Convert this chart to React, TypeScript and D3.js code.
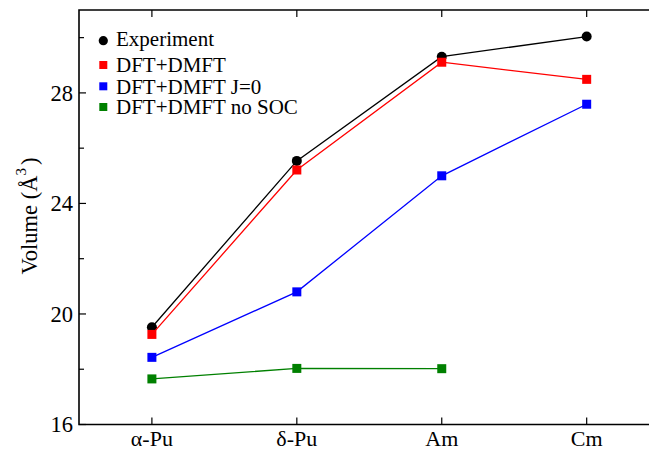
import * as d3 from 'd3';
import React, { useEffect, useRef } from 'react';

// categories and series values (volume in cubic angstrom)
const categories = ['\u03b1-Pu', '\u03b4-Pu', 'Am', 'Cm'];
const experiment = [19.52, 25.54, 29.31, 30.04];
const dftDmft = [19.26, 25.21, 29.11, 28.49];
const dftDmftJ0 = [18.43, 20.8, 25.0, 27.59];
const dftDmftNoSoc = [17.65, 18.03, 18.02];
const yMajorTicks = [16, 20, 24, 28];
const yMinorTicks = [18, 22, 26, 30];

const series = [
  { name: 'Experiment', values: experiment, color: '#000000', marker: 'circle' },
  { name: 'DFT+DMFT', values: dftDmft, color: '#ff0000', marker: 'square' },
  { name: 'DFT+DMFT J=0', values: dftDmftJ0, color: '#0000ff', marker: 'square' },
  { name: 'DFT+DMFT no SOC', values: dftDmftNoSoc, color: '#008000', marker: 'square' },
];

const W = 649;
const H = 450;
const margin = { top: 10, right: 0, bottom: 25.5, left: 79 };
const font = '"Liberation Serif", "Times New Roman", serif';

const x = d3.scaleLinear().domain([-0.503, 3.43]).range([margin.left, W - margin.right]);
const y = d3.scaleLinear().domain([16, 31]).range([H - margin.bottom, margin.top]);

function App() {
  const ref = useRef<SVGSVGElement>(null);

  useEffect(() => {
    const svg = d3.select(ref.current);
    svg.selectAll('*').remove();
    const x0 = margin.left;
    const x1 = W - margin.right;
    const y0 = H - margin.bottom;
    const y1 = margin.top;

    // frame (left, top, bottom)
    svg.append('path')
      .attr('d', `M${x1},${y1}H${x0}V${y0}H${x1}`)
      .attr('fill', 'none')
      .attr('stroke', '#000')
      .attr('stroke-width', 1.6);

    // y ticks, pointing inward
    svg.selectAll('.ymaj').data(yMajorTicks).enter().append('line')
      .attr('x1', x0).attr('x2', x0 + 7)
      .attr('y1', d => y(d)).attr('y2', d => y(d))
      .attr('stroke', '#000').attr('stroke-width', 1.2);
    svg.selectAll('.ymin').data(yMinorTicks).enter().append('line')
      .attr('x1', x0).attr('x2', x0 + 5)
      .attr('y1', d => y(d)).attr('y2', d => y(d))
      .attr('stroke', '#000').attr('stroke-width', 1.2);
    svg.selectAll('.ylab').data(yMajorTicks).enter().append('text')
      .attr('x', x0 - 6)
      .attr('y', d => y(d))
      .attr('dy', '0.35em')
      .attr('text-anchor', 'end')
      .attr('font-family', font)
      .attr('font-size', 22.5)
      .text(d => d);

    // x ticks on bottom and top
    categories.forEach((c, i) => {
      svg.append('line')
        .attr('x1', x(i)).attr('x2', x(i))
        .attr('y1', y0).attr('y2', y0 - 7)
        .attr('stroke', '#000').attr('stroke-width', 1.2);
      svg.append('line')
        .attr('x1', x(i)).attr('x2', x(i))
        .attr('y1', y1).attr('y2', y1 + 7)
        .attr('stroke', '#000').attr('stroke-width', 1.2);
      svg.append('text')
        .attr('x', x(i))
        .attr('y', y0 + 21.5)
        .attr('text-anchor', 'middle')
        .attr('font-family', font)
        .attr('font-size', 22)
        .text(c);
    });

    // y axis title
    const title = svg.append('text')
      .attr('transform', `translate(37,216) rotate(-90)`)
      .attr('text-anchor', 'middle')
      .attr('font-family', font)
      .attr('font-size', 22.5);
    title.append('tspan').text('Volume (\u00c5');
    title.append('tspan').attr('dy', -11).attr('font-size', 15).text('3');
    title.append('tspan').attr('dy', 11).attr('dx', 3).text(')');

    // series
    const line = d3.line<number>().x((d, i) => x(i)).y(d => y(d));
    series.forEach(s => {
      svg.append('path')
        .attr('d', line(s.values))
        .attr('fill', 'none')
        .attr('stroke', s.color)
        .attr('stroke-width', 1.3);
      s.values.forEach((v, i) => {
        if (s.marker === 'circle') {
          svg.append('circle')
            .attr('cx', x(i)).attr('cy', y(v)).attr('r', 5)
            .attr('fill', s.color);
        } else {
          svg.append('rect')
            .attr('x', x(i) - 4.5).attr('y', y(v) - 4.5)
            .attr('width', 9).attr('height', 9)
            .attr('fill', s.color);
        }
      });
    });

    // legend
    const legendY = [40.7, 65, 86.3, 107];
    series.forEach((s, i) => {
      const ly = legendY[i];
      if (s.marker === 'circle') {
        svg.append('circle').attr('cx', 103.3).attr('cy', ly).attr('r', 4.6).attr('fill', s.color);
      } else {
        svg.append('rect').attr('x', 99.3).attr('y', ly - 4).attr('width', 8).attr('height', 8).attr('fill', s.color);
      }
      svg.append('text')
        .attr('x', 116)
        .attr('y', ly)
        .attr('dy', i === 0 ? '0.25em' : '0.35em')
        .attr('font-family', font)
        .attr('font-size', 21)
        .text(s.name);
    });
  }, []);

  return (
    <svg ref={ref} width={W} height={H} style={{ display: 'block', position: 'absolute', left: 0, top: 0 }} />
  );
}

export default App;
